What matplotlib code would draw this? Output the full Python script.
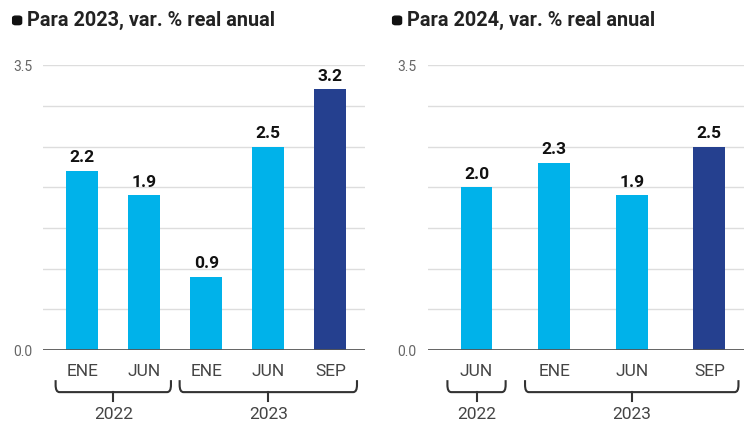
import matplotlib.pyplot as plt
import matplotlib.transforms as mtransforms
from matplotlib.patches import FancyBboxPatch, PathPatch
from matplotlib.path import Path

plt.rcParams['font.family'] = ['Roboto', 'DejaVu Sans']

# datos
meses_2023 = ['ENE', 'JUN', 'ENE', 'JUN', 'SEP']
valores_2023 = [2.2, 1.9, 0.9, 2.5, 3.2]
grupos_2023 = [('2022', 0, 1), ('2023', 2, 4)]

meses_2024 = ['JUN', 'ENE', 'JUN', 'SEP']
valores_2024 = [2.0, 2.3, 1.9, 2.5]
grupos_2024 = [('2022', 0, 0), ('2023', 1, 3)]

titulos = ['Para 2023, var. % real anual', 'Para 2024, var. % real anual']

azul_claro = '#00b2ea'
azul_oscuro = '#25408f'
gris_txt = '#666666'


def llave(ax, x0, x1, tr, y_top, y_bot, rx, ry):
    verts = [(x0, y_top), (x0, y_bot + ry), (x0, y_bot), (x0 + rx, y_bot),
             (x1 - rx, y_bot), (x1, y_bot), (x1, y_bot + ry), (x1, y_top)]
    codes = [Path.MOVETO, Path.LINETO, Path.CURVE3, Path.CURVE3,
             Path.LINETO, Path.CURVE3, Path.CURVE3, Path.LINETO]
    ax.add_patch(PathPatch(Path(verts, codes), transform=tr, fill=False,
                           edgecolor='#333333', lw=1.5, clip_on=False))


def panel(ax, meses, valores, grupos, ancho, xlim):
    x = list(range(len(meses)))
    colores = [azul_claro] * (len(meses) - 1) + [azul_oscuro]
    ax.bar(x, valores, width=ancho, color=colores, zorder=3)
    for xi, v in zip(x, valores):
        ax.text(xi, v + 0.07, f'{v:.1f}', ha='center', va='bottom',
                fontsize=12.5, fontweight='bold', color='#111111')
    ax.set_xlim(*xlim)
    ax.set_ylim(0, 3.5)
    for g in [0.5, 1.0, 1.5, 2.0, 2.5, 3.0, 3.5]:
        ax.axhline(g, color='#dddddd', lw=1, zorder=1)
    ax.axhline(0, color='#555555', lw=2, zorder=4)
    ax.set_yticks([0, 3.5])
    ax.set_yticklabels(['0.0', '3.5'])
    ax.set_xticks(x)
    ax.set_xticklabels(meses)
    ax.tick_params(axis='y', length=0, pad=8, labelsize=10, labelcolor=gris_txt)
    ax.tick_params(axis='x', length=0, pad=10, labelsize=12.5, labelcolor='#444444')
    for s in ax.spines.values():
        s.set_visible(False)

    # llaves de años
    tr = mtransforms.blended_transform_factory(ax.transData, ax.transAxes)
    rx = 0.06 * (xlim[1] - xlim[0]) / 5
    for nombre, a, b in grupos:
        x0 = a - ancho / 2 - 0.17
        x1 = b + ancho / 2 + 0.17
        xm = (a + b) / 2
        llave(ax, x0, x1, tr, -0.105, -0.147, rx, 0.025)
        ax.plot([xm, xm], [-0.147, -0.177], transform=tr, color='#333333',
                lw=1.5, clip_on=False)
        ax.text(xm, -0.2, nombre, transform=tr, ha='center', va='top',
                fontsize=12.5, color='#444444')


fig = plt.figure(figsize=(7.45, 4.25), dpi=100)
ax1 = fig.add_axes([0.058, 0.176, 0.432, 0.671])
ax2 = fig.add_axes([0.574, 0.176, 0.424, 0.671])

panel(ax1, meses_2023, valores_2023, grupos_2023, 0.52, (-0.63, 4.56))
panel(ax2, meses_2024, valores_2024, grupos_2024, 0.41, (-0.63, 3.44))

for xt, t in zip([0.036, 0.546], titulos):
    fig.text(xt, 0.952, t, ha='left', va='center', fontsize=14.3,
             fontweight='bold', color='#222222')
    fig.patches.append(FancyBboxPatch((xt - 0.019, 0.942), 0.012, 0.02,
                                      boxstyle='round,pad=0,rounding_size=0.004',
                                      transform=fig.transFigure, color='#111111'))

fig.savefig('out.png', dpi=100)
